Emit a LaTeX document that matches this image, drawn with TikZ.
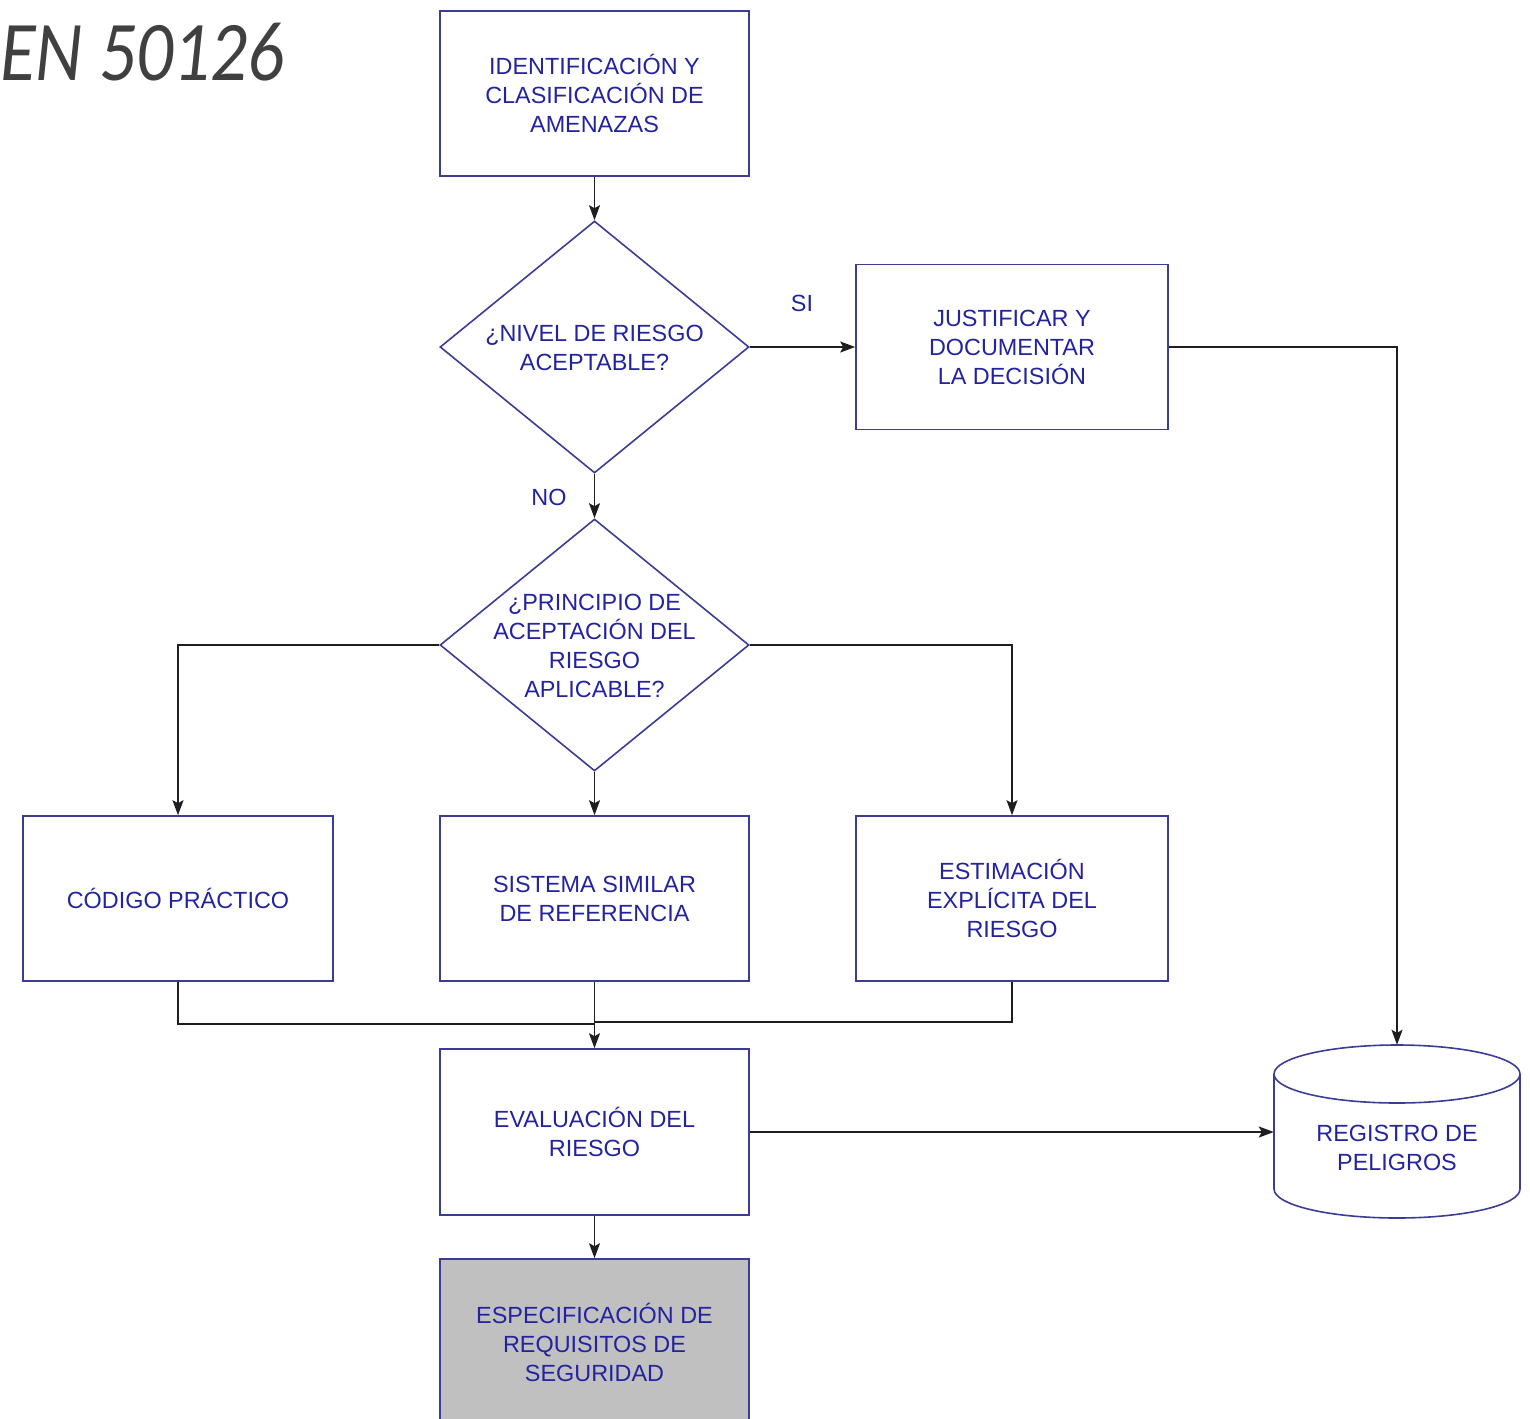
\documentclass[tikz,border=0pt]{standalone}
\usepackage{fontspec}
\setmainfont{Liberation Sans}
\newfontfamily\titlefont[FakeStretch=0.86]{Carlito}
\usetikzlibrary{arrows.meta,shapes.geometric}
\definecolor{txtblue}{RGB}{35,35,160}
\definecolor{edgeblue}{RGB}{60,60,150}
\definecolor{linegray}{RGB}{30,30,30}
\definecolor{fillgray}{RGB}{192,192,192}
\definecolor{titlegray}{RGB}{64,64,64}
\tikzset{
  boxnode/.style={draw=edgeblue, line width=1.6pt, rectangle, minimum width=309pt, minimum height=165pt, inner sep=0pt},
  decision/.style={draw=edgeblue, line width=1.6pt, diamond, minimum width=309pt, minimum height=252pt, inner sep=0pt},
  qtext/.style={text=txtblue, font=\fontsize{23.4}{29}\selectfont, align=center, inner sep=0pt},
  btext/.style={qtext},
  conn/.style={draw=linegray, line width=1.8pt, -{Stealth[length=15pt,width=11pt,inset=3pt]}},
  plainconn/.style={draw=linegray, line width=1.8pt},
  cylline/.style={draw=edgeblue, line width=1.6pt}
}
\begin{document}
\begin{tikzpicture}[x=1pt,y=-1pt]
\useasboundingbox (0,0) rectangle (1530,1418);
\clip (0,0) rectangle (1530,1418);

\node[anchor=base west, inner sep=0pt, text=titlegray, font=\titlefont\itshape\fontsize{85}{85}\selectfont] (title) at (0,81) {EN 50126};

% boxes
\node[boxnode, btext] (ident) at (594.5,93.5) {IDENTIFICACIÓN Y\\CLASIFICACIÓN DE\\AMENAZAS};
\node[decision] (d1) at (594.5,347) {};
\node[qtext] (d1t) at (594.5,347.5) {¿NIVEL DE RIESGO\\ACEPTABLE?};
\node[boxnode, btext, minimum width=312pt] (just) at (1012,347) {JUSTIFICAR Y\\DOCUMENTAR\\LA DECISIÓN};
\node[decision] (d2) at (594.5,645) {};
\node[qtext] (d2t) at (594.5,646) {¿PRINCIPIO DE\\ACEPTACIÓN DEL\\RIESGO\\APLICABLE?};
\node[boxnode, btext, minimum width=310pt] (codigo) at (178,898.5) {CÓDIGO PRÁCTICO};
\node[boxnode, btext] (sistema) at (594.5,898.5) {SISTEMA SIMILAR\\DE REFERENCIA};
\node[boxnode, btext, minimum width=312pt] (estim) at (1012,898.5) {ESTIMACIÓN\\EXPLÍCITA DEL\\RIESGO};
\node[boxnode, btext, minimum height=166pt] (eval) at (594.5,1132) {EVALUACIÓN DEL\\RIESGO};
\node[boxnode, btext, fill=fillgray, minimum height=166pt] (espec) at (594.5,1342) {ESPECIFICACIÓN DE\\REQUISITOS DE\\SEGURIDAD};

% cylinder (registro)
\node[minimum width=246pt, minimum height=174pt, inner sep=0pt] (reg) at (1397,1132) {};
\draw[cylline] (1274,1074) -- (1274,1189)
  arc[start angle=180, end angle=360, x radius=123pt, y radius=29pt] -- (1520,1074);
\draw[cylline] (1397,1074) ellipse [x radius=123pt, y radius=29pt];
\node[qtext] (regt) at (1397,1147.5) {REGISTRO DE\\PELIGROS};

% labels
\node[qtext] (si) at (802,303) {SI};
\node[qtext] (no) at (549,497) {NO};

% connectors
\draw[conn] (ident.south) -- (d1.north);
\draw[conn] (d1.east) -- (just.west);
\draw[conn] (d1.south) -- (d2.north);
\draw[conn] (d2.west) -| (codigo.north);
\draw[conn] (d2.south) -- (sistema.north);
\draw[conn] (d2.east) -| (estim.north);
\draw[conn] (just.east) -| (reg.north);
\coordinate (mergeL) at (594.5,1024);
\coordinate (mergeR) at (594.5,1022);
\draw[plainconn] (codigo.south) |- (mergeL);
\draw[plainconn] (estim.south) |- (mergeR);
\draw[conn] (sistema.south) -- (eval.north);
\draw[conn] (eval.east) -- (reg.west);
\draw[conn] (eval.south) -- (espec.north);
\end{tikzpicture}
\end{document}
